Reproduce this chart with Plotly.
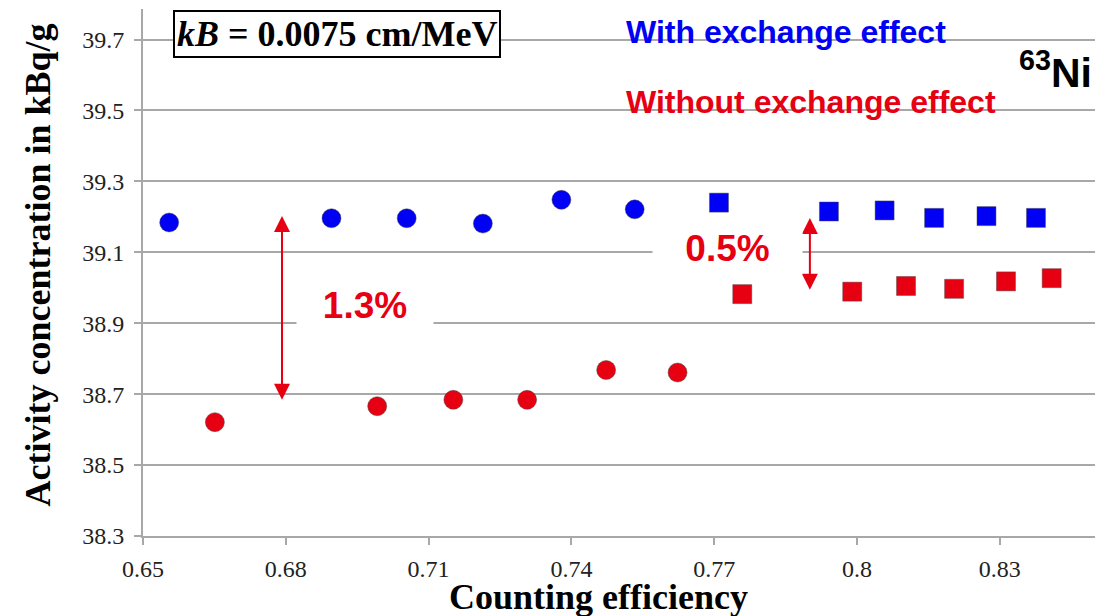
import plotly.graph_objects as go

# ---------------- data ----------------
with_circ_x = [0.6555, 0.6896, 0.7054, 0.7214, 0.7379, 0.7533]
with_circ_y = [39.184, 39.196, 39.196, 39.181, 39.248, 39.221]
with_sq_x = [0.7710, 0.7941, 0.8058, 0.8162, 0.8272, 0.8376]
with_sq_y = [39.240, 39.215, 39.218, 39.197, 39.202, 39.197]

without_circ_x = [0.6651, 0.6992, 0.7152, 0.7307, 0.7473, 0.7623]
without_circ_y = [38.621, 38.666, 38.684, 38.684, 38.768, 38.761]
without_sq_x = [0.7759, 0.7990, 0.8103, 0.8204, 0.8313, 0.8409]
without_sq_y = [38.982, 38.989, 39.005, 38.997, 39.018, 39.027]

x_ticks = [0.65, 0.68, 0.71, 0.74, 0.77, 0.80, 0.83]
x_ticklabels = ["0.65", "0.68", "0.71", "0.74", "0.77", "0.8", "0.83"]
y_ticks = [38.3, 38.5, 38.7, 38.9, 39.1, 39.3, 39.5, 39.7]
y_ticklabels = ["38.3", "38.5", "38.7", "38.9", "39.1", "39.3", "39.5", "39.7"]

gap_13 = {"x": 0.6792, "y_top": 39.202, "y_bot": 38.68}
gap_05 = {"x": 0.7901, "y_top": 39.197, "y_bot": 38.99}

BLUE = "#0000F5"
RED = "#E60012"
GRID = "#A8A8A8"
SERIF = "Liberation Serif, Times New Roman, serif"
SANS = "Liberation Sans, Arial, sans-serif"

fig = go.Figure()
edge = dict(color="rgba(70,70,70,0.45)", width=1)
fig.add_trace(go.Scatter(x=with_circ_x, y=with_circ_y, mode="markers",
                         marker=dict(symbol="circle", size=19, color=BLUE, line=edge),
                         showlegend=False))
fig.add_trace(go.Scatter(x=with_sq_x, y=with_sq_y, mode="markers",
                         marker=dict(symbol="square", size=19, color=BLUE, line=edge),
                         showlegend=False))
fig.add_trace(go.Scatter(x=without_circ_x, y=without_circ_y, mode="markers",
                         marker=dict(symbol="circle", size=19, color=RED, line=edge),
                         showlegend=False))
fig.add_trace(go.Scatter(x=without_sq_x, y=without_sq_y, mode="markers",
                         marker=dict(symbol="square", size=19, color=RED, line=edge),
                         showlegend=False))

anns = []
# double arrows
for g in (gap_13, gap_05):
    anns.append(dict(x=g["x"], y=g["y_top"], ax=g["x"], ay=g["y_bot"],
                     xref="x", yref="y", axref="x", ayref="y", text="",
                     showarrow=True, arrowside="end+start", arrowhead=2,
                     arrowsize=1.6, arrowwidth=2, arrowcolor=RED))

def txt(x, y, text, font, xa="center", ya="middle", **kw):
    d = dict(x=x, y=y, xref="paper", yref="paper", text=text, showarrow=False,
             xanchor=xa, yanchor=ya, font=font)
    d.update(kw)
    anns.append(d)

# percentage labels with white background (hide grid line)
txt(0.2330, 0.4378, "<b>1.3%</b>", dict(family=SANS, size=37, color=RED),
    bgcolor="white", width=134, height=56)
txt(0.6144, 0.5459, "<b>0.5%</b>", dict(family=SANS, size=37, color=RED),
    bgcolor="white", width=147, height=50)
# kB box
txt(0.2041, 0.9526, "<b><i>kB</i> = 0.0075 cm/MeV</b>",
    dict(family=SERIF, size=36, color="black"),
    bgcolor="white", bordercolor="black", borderwidth=2, borderpad=2)
# legend-like texts
txt(0.5051, 0.9564, "<b>With exchange effect</b>",
    dict(family=SANS, size=32, color=BLUE), xa="left")
txt(0.5051, 0.8235, "<b>Without exchange effect</b>",
    dict(family=SANS, size=32, color=RED), xa="left")
txt(0.999, 0.885, "<b><sup>63</sup>Ni</b>",
    dict(family=SANS, size=41, color="black"), xa="right")
# axis titles
txt(-0.110, 0.514, "<b>Activity concentration in kBq/g</b>",
    dict(family=SERIF, size=36, color="black"), textangle=-90)
txt(0.4789, -0.1163, "<b>Counting efficiency</b>",
    dict(family=SERIF, size=36, color="black"))

fig.update_layout(
    width=1120, height=616,
    margin=dict(l=135, r=33, t=1, b=88),
    paper_bgcolor="white", plot_bgcolor="white",
    annotations=anns,
    xaxis=dict(range=[0.65, 0.85], tickvals=x_ticks, ticktext=x_ticklabels,
               showgrid=False, zeroline=False, showline=True, linecolor=GRID,
               linewidth=2, ticks="outside", ticklen=7, tickwidth=2, tickcolor=GRID,
               ticklabelstandoff=3,
               tickfont=dict(family=SERIF, size=24, color="#222")),
    yaxis=dict(range=[38.3, 39.786], tickvals=y_ticks, ticktext=y_ticklabels,
               showgrid=True, gridcolor=GRID, gridwidth=2, zeroline=False,
               showline=True, linecolor=GRID, linewidth=2,
               ticks="outside", ticklen=7, tickwidth=2, tickcolor=GRID,
               ticklabelstandoff=5,
               tickfont=dict(family=SERIF, size=24, color="#222")),
)

fig.write_html("out.html")
